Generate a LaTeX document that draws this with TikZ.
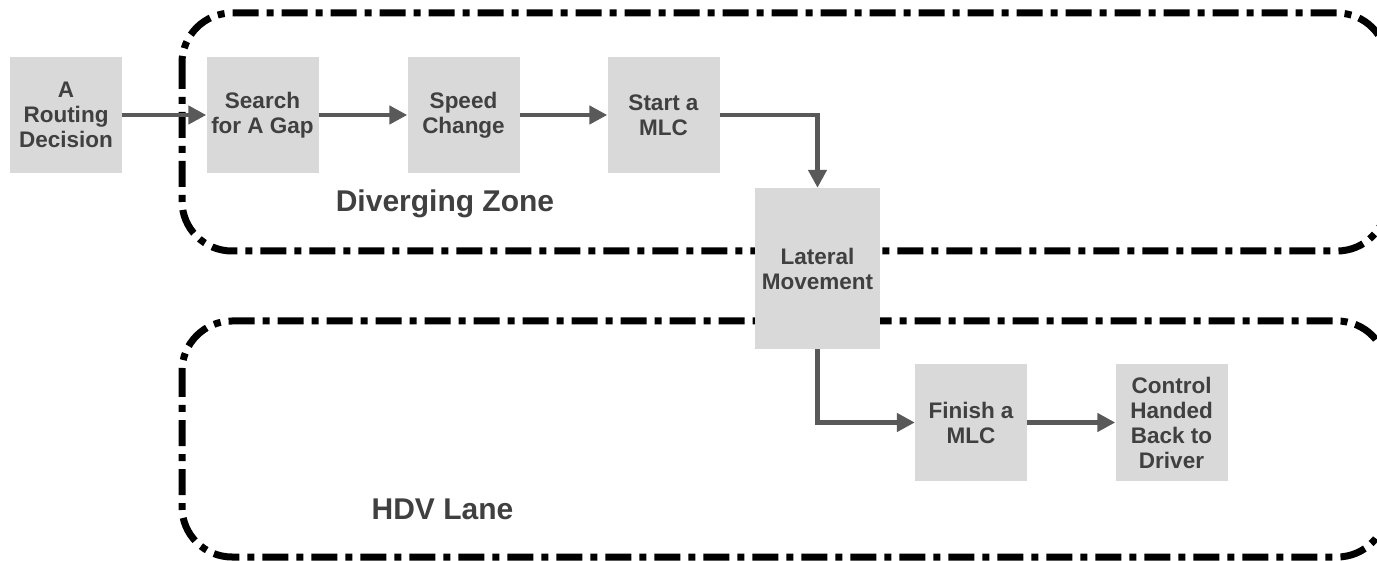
\documentclass[tikz,border=0pt]{standalone}
\usepackage{fontspec}
\setmainfont{Liberation Sans}
\usetikzlibrary{arrows.meta}
\definecolor{boxfill}{HTML}{D9D9D9}
\definecolor{txt}{HTML}{404040}
\definecolor{arr}{HTML}{595959}
\begin{document}
\begin{tikzpicture}[x=1pt,y=-1pt,
  stepbox/.style={fill=boxfill, draw=none, minimum width=112pt, minimum height=116pt, align=center,
    font=\fontsize{22.5}{25}\selectfont\bfseries, text=txt, inner sep=0pt},
  zone/.style={line width=7pt, dash pattern=on 26pt off 8pt on 7pt off 8pt, rounded corners=50pt},
  conn/.style={draw=arr, line width=4.5pt, -{Triangle[length=18pt,width=18pt]}},
  zonelabel/.style={font=\fontsize{30}{34}\selectfont\bfseries, text=txt}]
\useasboundingbox (0,0) rectangle (1377,561);
\draw[zone] (182,13) rectangle (1387,251);
\draw[zone] (182,321) rectangle (1387,557);
\node[zonelabel] (dz) at (445,204) {Diverging Zone};
\node[zonelabel] (hdv) at (442.5,509) {HDV Lane};
\node[stepbox] (rout) at (66,115) {A\\Routing\\Decision};
\node[stepbox] (srch) at (262.5,115) {Search\\for A Gap};
\node[stepbox] (spd) at (463.5,115) {Speed\\Change};
\node[stepbox] (strt) at (663.5,115) {Start a\\MLC};
\node[stepbox, minimum width=125pt, minimum height=161pt] (lat) at (817.5,268.5) {Lateral\\Movement};
\node[stepbox] (fin) at (971,422.5) {Finish a\\MLC};
\node[stepbox] (ctrl) at (1171.5,422.5) {Control\\Handed\\Back to\\Driver};
\draw[conn] (rout) -- (srch);
\draw[conn] (srch) -- (spd);
\draw[conn] (spd) -- (strt);
\draw[conn] (strt.east) -| (lat.north);
\draw[conn] (lat.south) |- (fin.west);
\draw[conn] (fin) -- (ctrl);
\end{tikzpicture}
\end{document}
